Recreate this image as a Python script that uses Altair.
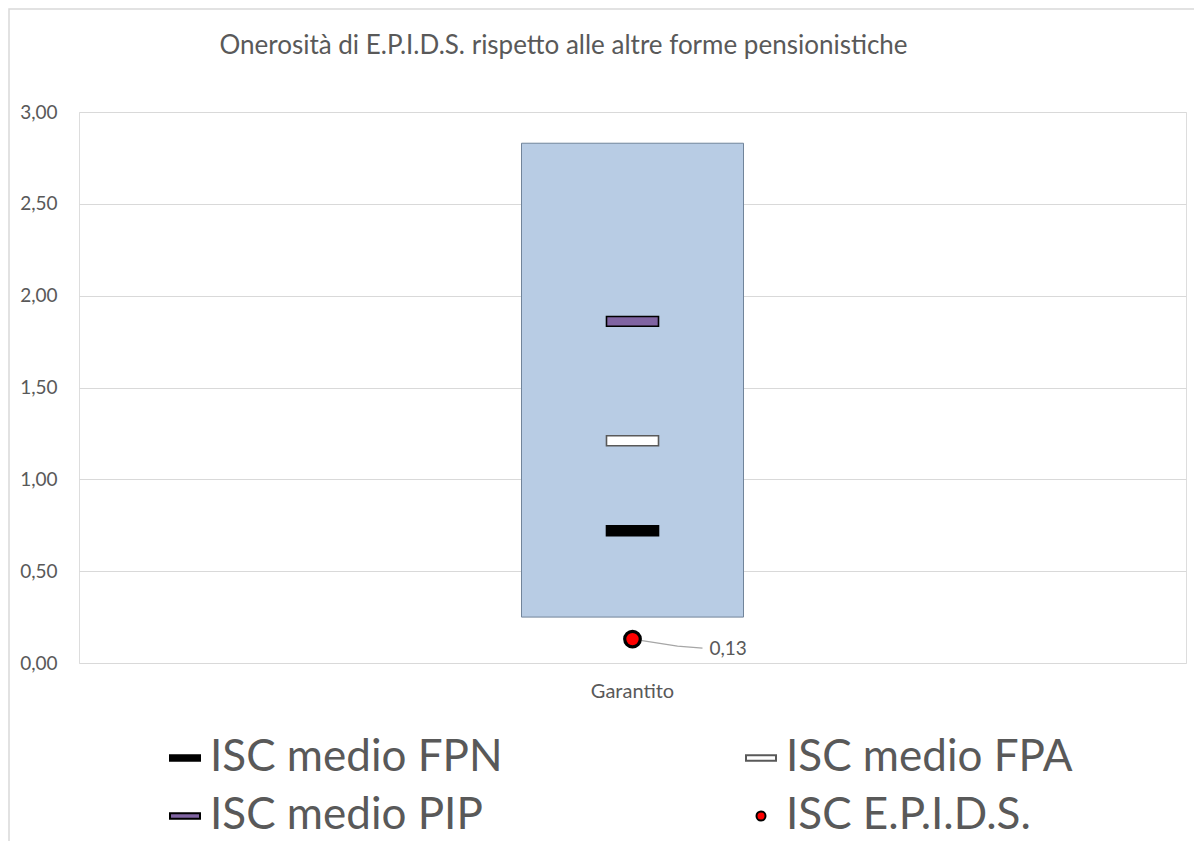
import altair as alt
import pandas as pd

# ---- data ----
category = ["Garantito"]
range_low = [0.25]
range_high = [2.83]
# legend is laid out column by column: FPN, PIP | FPA, E.P.I.D.S.
series_names = ["ISC medio FPN", "ISC medio PIP", "ISC medio FPA", "ISC E.P.I.D.S."]
series_values = [0.72, 1.86, 1.21, 0.13]
series_fill = ["#000000", "#8064a2", "#ffffff", "#ff0000"]
series_stroke = ["#000000", "#000000", "#595959", "#000000"]
y_ticks = [0, 0.5, 1, 1.5, 2, 2.5, 3]
title_text = "Onerosità di E.P.I.D.S. rispetto alle altre forme pensionistiche"
labelled_series = "ISC E.P.I.D.S."

RECT = "M-1,-0.19H1V0.19H-1Z"
CIRC = "M-0.3,0A0.3,0.3 0 1,0 0.3,0A0.3,0.3 0 1,0 -0.3,0Z"
series_shape = [RECT, RECT, RECT, CIRC]

range_df = pd.DataFrame({"cat": category, "low": range_low, "high": range_high})
pts_df = pd.DataFrame({"cat": category * len(series_names), "series": series_names, "value": series_values})
lab_df = pts_df[pts_df["series"] == labelled_series]

FONT = "Lato"
TXT = "#595959"
GRID = "#d9d9d9"

x_enc = alt.X(
    "cat:N",
    scale=alt.Scale(domain=category),
    axis=alt.Axis(title=None, domain=False, ticks=False, grid=False, labelAngle=0,
                  labelFontSize=20, labelColor=TXT, labelFont=FONT, labelPadding=18),
)
y_scale = alt.Scale(domain=[0, 3], nice=False, zero=True)
y_axis = alt.Axis(title=None, values=y_ticks, domain=False, ticks=False,
                  labelExpr="replace(format(datum.value, '.2f'), '.', ',')",
                  gridColor=GRID, gridWidth=1, labelFontSize=19, labelColor=TXT,
                  labelFont=FONT, labelPadding=22)

frame = alt.Chart(range_df).mark_rect(fillOpacity=0, stroke=GRID, strokeWidth=1.5).encode(
    x=alt.value(-70), x2=alt.value(1300), y=alt.value(-103), y2=alt.value(900)
)

bar = alt.Chart(range_df).mark_bar(width=222, color="#b8cce4", stroke="#71849a", strokeWidth=1).encode(
    x=x_enc,
    y=alt.Y("low:Q", scale=y_scale, axis=y_axis),
    y2="high:Q",
)

leader = alt.Chart(lab_df).mark_point(shape="M0,0L45,7L70,9", size=4, filled=False,
                                      stroke="#a6a6a6", strokeWidth=1.3, opacity=1).encode(
    x=x_enc, y=alt.Y("value:Q", scale=y_scale)
)

legend = alt.Legend(title=None, orient="none", legendX=84, legendY=624, columns=2,
                    columnPadding=236, rowPadding=14, labelFontSize=44, labelFont=FONT,
                    labelColor=TXT, labelLimit=700, symbolSize=900, symbolStrokeWidth=2,
                    labelOffset=3)

points = alt.Chart(pts_df).mark_point(filled=True, size=2704, opacity=1, strokeWidth=1.6).encode(
    x=x_enc,
    y=alt.Y("value:Q", scale=y_scale),
    shape=alt.Shape("series:N", scale=alt.Scale(domain=series_names, range=series_shape), legend=legend),
    fill=alt.Fill("series:N", scale=alt.Scale(domain=series_names, range=series_fill), legend=legend),
    stroke=alt.Stroke("series:N", scale=alt.Scale(domain=series_names, range=series_stroke), legend=legend),
)

dot = alt.Chart(lab_df).mark_point(shape=CIRC, size=2704, filled=True, opacity=1,
                                   fill="#ff0000", stroke="#000000", strokeWidth=3.2).encode(
    x=x_enc, y=alt.Y("value:Q", scale=y_scale)
)

label = alt.Chart(lab_df).transform_calculate(
    lab="replace(format(datum.value, '.2f'), '.', ',')"
).mark_text(align="left", baseline="middle", dx=77, dy=10, fontSize=19, font=FONT, color=TXT).encode(
    x=x_enc, y=alt.Y("value:Q", scale=y_scale), text="lab:N"
)

chart = alt.layer(frame, bar, leader, points, dot, label).properties(
    width=1107,
    height=551,
    title=alt.TitleParams(title_text, font=FONT, fontSize=26, fontWeight="normal", color=TXT,
                          anchor="middle", frame="group", dx=-69, offset=-51),
    padding={"left": 71, "top": 104, "right": 8, "bottom": 178},
    autosize="none",
).configure_view(stroke=GRID, strokeWidth=1.5).configure(background="white")

chart.save("out.html", embed_options={"renderer": "svg", "actions": False})
